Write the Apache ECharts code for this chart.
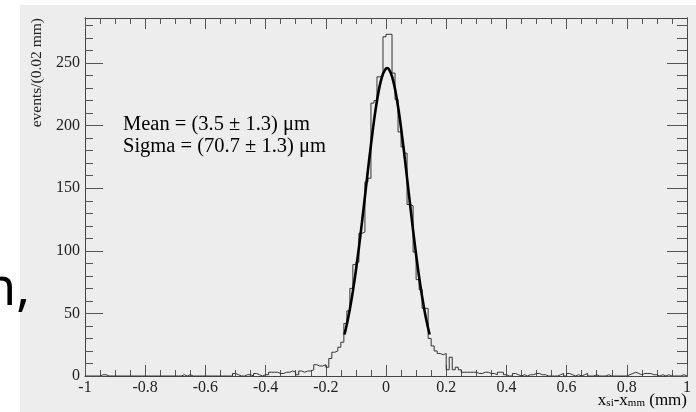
<!DOCTYPE html>
<html><head><meta charset="utf-8">
<script src="https://cdn.jsdelivr.net/npm/echarts@6/dist/echarts.min.js"></script>
<style>html,body{margin:0;padding:0;background:#fff}#c{width:696px;height:412px}</style>
</head><body><div id="c"></div>
<script>
// histogram: 200 bins of 0.01 mm from -1 to 1
const binLow = -1;
const binWidth = 0.01;
const counts = [
  0,0,0,0,0,1,1,0,0,0,  0,0,0,0,0,0,0,0,0,0,
  0,0,0,0,0,0,0,0,0,0,  0,0,1,0,1,0,0,0,0,0,
  0,0,0,0,0,0,0,0,0,2,  1,0,0,1,1,0,2,1,0,1,
  1,3,3,3,2,2,3,3,4,3,  1,4,3,4,4,5,9,8,8,9,
  7,14,19,20,23,27,42,52,70,89,  91,114,115,155,158,218,220,239,240,271,
  273,273,242,221,195,183,178,137,136,99,  77,69,54,54,30,24,20,18,17,18,
  5,15,5,7,5,3,3,3,3,3,  2,2,3,3,2,2,1,3,3,1,
  0,0,2,1,0,1,0,1,1,2,  2,1,1,0,0,0,0,1,2,0,
  2,1,0,1,0,1,2,0,0,1,  0,0,0,1,0,0,0,0,0,0,
  1,2,3,2,1,2,2,2,1,1,  0,1,0,1,0,0,0,0,1,0
];
// fitted curve
const fitX = [-0.138,-0.13,-0.12,-0.11,-0.10,-0.09,-0.08,-0.07,-0.06,-0.05,-0.04,-0.03,-0.02,-0.01,0,0.0035,0.01,0.02,0.03,0.04,0.05,0.06,0.07,0.08,0.09,0.10,0.11,0.12,0.13,0.14,0.145];
const fitY = [33.2,41.4,53.5,67.8,84.3,102.6,122.5,143.3,164.4,184.7,203.6,219.9,232.8,241.5,245.7,246,245.0,239.4,229.3,215.3,198.2,178.8,158.1,137.0,116.4,96.9,79.1,63.3,49.6,38.2,33.2];
const yMajorTicks = [0,50,100,150,200,250];
const yMinorTicks = [0,10,20,30,40,50,60,70,80,90,100,110,120,130,140,150,160,170,180,190,200,210,220,230,240,250,260,270,280];
const yMax = 286;
const xMin = -1, xMax = 1, xMajor = 0.2, xMinorSplit = 4;
const statLines = ['Mean = (3.5 \u00b1 1.3) \u03bcm', 'Sigma = (70.7 \u00b1 1.3) \u03bcm'];
const yTitle = 'events/(0.02 mm)';

const histData = counts.map((v, i) => [binLow + i * binWidth, v]);
histData.push([binLow + counts.length * binWidth, counts[counts.length - 1]]);
const fitData = fitX.map((x, i) => [x, fitY[i]]);

const serif = 'Liberation Serif';
const axisCol = '#444';
const tickCol = '#555';
function xAx(pos, showLabel) {
  return {
    type: 'value', position: pos, min: xMin, max: xMax, interval: xMajor,
    axisLine: { show: true, onZero: false, lineStyle: { color: axisCol, width: 1 } },
    axisTick: { show: true, inside: true, length: 11, lineStyle: { color: tickCol } },
    minorTick: { show: true, splitNumber: xMinorSplit, length: 6, lineStyle: { color: tickCol } },
    axisLabel: { show: showLabel, fontFamily: serif, fontSize: 16, color: '#222', margin: 4 },
    splitLine: { show: false }, minorSplitLine: { show: false }
  };
}
function yAx(pos, ticks, len, showLabel) {
  return {
    type: 'value', position: pos, min: 0, max: yMax,
    axisLine: { show: true, onZero: false, lineStyle: { color: axisCol, width: 1 } },
    axisTick: { show: true, inside: true, length: len, customValues: ticks, lineStyle: { color: tickCol } },
    axisLabel: { show: showLabel, customValues: yMajorTicks, fontFamily: serif, fontSize: 16, color: '#222', margin: 5 },
    splitLine: { show: false }
  };
}
const chart = echarts.init(document.getElementById('c'));
chart.setOption({
  animation: false,
  backgroundColor: '#ededed',
  grid: { left: 85, right: 9, top: 18, bottom: 36, containLabel: false },
  xAxis: [xAx('bottom', true), xAx('top', false)],
  yAxis: [
    yAx('left', yMajorTicks, 18, true),
    yAx('left', yMinorTicks, 8, false),
    yAx('right', yMajorTicks, 20, false),
    yAx('right', yMinorTicks, 10, false)
  ],
  series: [
    { type: 'line', step: 'end', data: histData, symbol: 'none', xAxisIndex: 0, yAxisIndex: 0,
      lineStyle: { color: '#333', width: 1 }, z: 3 },
    { type: 'line', smooth: 0.3, data: fitData, symbol: 'none', xAxisIndex: 0, yAxisIndex: 0,
      lineStyle: { color: '#000', width: 2.6 }, z: 4 }
  ],
  graphic: [
    { type: 'rect', shape: { x: 0, y: 0, width: 20, height: 412 }, style: { fill: '#fff' }, z: 0 },
    { type: 'rect', shape: { x: 0, y: 0, width: 696, height: 5 }, style: { fill: '#fff' }, z: 0 },
    { type: 'text', x: -16, y: 264, z: 10, style: { text: 'n,', font: '52px "Noto Sans"', fill: '#000', textVerticalAlign: 'top' } },
    { type: 'text', x: 123, y: 125, z: 10, style: { text: statLines[0], font: '20.5px "Liberation Serif"', fill: '#000', textVerticalAlign: 'middle' } },
    { type: 'text', x: 123, y: 147, z: 10, style: { text: statLines[1], font: '20.5px "Liberation Serif"', fill: '#000', textVerticalAlign: 'middle' } },
    { type: 'text', x: 37, y: 18, rotation: Math.PI / 2, z: 10, style: { text: yTitle, font: '15.5px "Liberation Serif"', fill: '#222', textAlign: 'right', textVerticalAlign: 'middle' } },
    { type: 'text', x: 687, y: 409, z: 10, style: {
        text: '{m|x}{s|si}{m|-x}{s|mm}{m| (mm)}', textAlign: 'right', textVerticalAlign: 'bottom',
        rich: { m: { fontFamily: serif, fontSize: 17, color: '#222' }, s: { fontFamily: serif, fontSize: 11, color: '#222', padding: [6, 0, 0, 0] } }
      } }
  ]
});
</script></body></html>
